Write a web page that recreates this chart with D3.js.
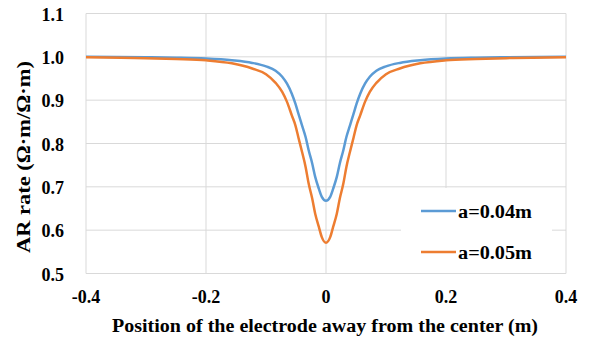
<!DOCTYPE html>
<html>
<head>
<meta charset="utf-8">
<script src="https://cdn.jsdelivr.net/npm/d3@7"></script>
<style>
  body { margin: 0; background: #fff; }
</style>
</head>
<body>
<svg class="chart" width="593" height="338"></svg>
<script>
// values
const positions = [-0.4, -0.3, -0.25, -0.2, -0.157, -0.123, -0.1, -0.084, -0.073, -0.065, -0.057, -0.051, -0.046, -0.04, -0.034, -0.029, -0.023, -0.018, -0.012, -0.007, 0,
  0.007, 0.012, 0.018, 0.023, 0.029, 0.034, 0.04, 0.046, 0.051, 0.057, 0.065, 0.073, 0.084, 0.1, 0.123, 0.157, 0.2, 0.25, 0.3, 0.4];
const rateA004 = [1.0, 0.999, 0.998, 0.996, 0.992, 0.986, 0.978, 0.968, 0.954, 0.938, 0.915, 0.892, 0.869, 0.842, 0.815, 0.785, 0.754, 0.723, 0.696, 0.677, 0.668,
  0.677, 0.696, 0.723, 0.754, 0.785, 0.815, 0.842, 0.869, 0.892, 0.915, 0.938, 0.954, 0.968, 0.978, 0.986, 0.992, 0.996, 0.998, 0.999, 1.0];
const rateA005 = [0.999, 0.997, 0.995, 0.992, 0.985, 0.973, 0.96, 0.94, 0.919, 0.896, 0.865, 0.842, 0.814, 0.781, 0.746, 0.708, 0.673, 0.638, 0.608, 0.584, 0.571,
  0.584, 0.608, 0.638, 0.673, 0.708, 0.746, 0.781, 0.814, 0.842, 0.865, 0.896, 0.919, 0.94, 0.96, 0.973, 0.985, 0.992, 0.995, 0.997, 0.999];
const seriesNames = ["a=0.04m", "a=0.05m"];
const seriesColors = ["#5B9BD5", "#ED7D31"];
const xTicks = [-0.4, -0.2, 0, 0.2, 0.4];
const yTicks = [0.5, 0.6, 0.7, 0.8, 0.9, 1.0, 1.1];

const FONT = "'Liberation Serif', 'Times New Roman', serif";

const drawChart = () => {
  const svg = d3.select(".chart");
  const left = 86, right = 566, top = 13.5, bottom = 273.5;

  const xScale = d3.scaleLinear().domain([-0.4, 0.4]).range([left, right]);
  const yScale = d3.scaleLinear().domain([0.5, 1.1]).range([bottom, top]);

  const label = (sel) => sel
    .style("font-family", FONT)
    .style("font-weight", "bold")
    .style("font-size", "18px")
    .attr("fill", "#000");

  // gridlines (borders included)
  svg.append("g")
    .selectAll("line").data(yTicks).enter()
    .append("line")
    .attr("x1", left).attr("x2", right)
    .attr("y1", (d) => yScale(d)).attr("y2", (d) => yScale(d))
    .attr("stroke", "#d9d9d9").attr("stroke-width", 1);
  svg.append("g")
    .selectAll("line").data(xTicks).enter()
    .append("line")
    .attr("y1", top).attr("y2", bottom)
    .attr("x1", (d) => xScale(d)).attr("x2", (d) => xScale(d))
    .attr("stroke", "#d9d9d9").attr("stroke-width", 1);

  // tick labels
  svg.append("g")
    .selectAll("text").data(yTicks).enter()
    .append("text")
    .attr("x", 64).attr("y", (d) => yScale(d) + 7)
    .attr("text-anchor", "end")
    .call(label)
    .text((d) => d.toFixed(1));
  svg.append("g")
    .selectAll("text").data(xTicks).enter()
    .append("text")
    .attr("x", (d) => xScale(d)).attr("y", 303)
    .attr("text-anchor", "middle")
    .call(label)
    .text((d) => d === 0 ? "0" : d.toFixed(1));

  // axis titles
  svg.append("text")
    .attr("x", 112).attr("y", 332)
    .attr("textLength", 426).attr("lengthAdjust", "spacingAndGlyphs")
    .call(label)
    .text("Position of the electrode away from the center (m)");
  svg.append("text")
    .attr("transform", "translate(30, 253) rotate(-90)")
    .attr("textLength", 192).attr("lengthAdjust", "spacingAndGlyphs")
    .call(label)
    .text("AR rate (Ω·m/Ω·m)");

  // curves
  const line = d3.line()
    .x((d) => xScale(d[0]))
    .y((d) => yScale(d[1]))
    .curve(d3.curveMonotoneX);
  [rateA004, rateA005].forEach((values, i) => {
    svg.append("path")
      .datum(positions.map((p, j) => [p, values[j]]))
      .attr("d", line)
      .attr("fill", "none")
      .attr("stroke", seriesColors[i])
      .attr("stroke-width", 2.5);
  });

  // legend
  svg.append("rect")
    .attr("x", 401).attr("y", 188).attr("width", 151).attr("height", 85)
    .attr("fill", "#fff");
  const legend = svg.append("g").selectAll("g").data(seriesNames).enter()
    .append("g")
    .attr("transform", (d, i) => "translate(421, " + (211 + i * 41) + ")");
  legend.append("line")
    .attr("x1", 0).attr("x2", 35).attr("y1", 0).attr("y2", 0)
    .attr("stroke", (d, i) => seriesColors[i]).attr("stroke-width", 2.5);
  legend.append("text")
    .attr("x", 37).attr("y", 7)
    .attr("textLength", 74).attr("lengthAdjust", "spacingAndGlyphs")
    .call(label)
    .text((d) => d);
};

document.addEventListener('DOMContentLoaded', drawChart, false);
</script>
</body>
</html>
